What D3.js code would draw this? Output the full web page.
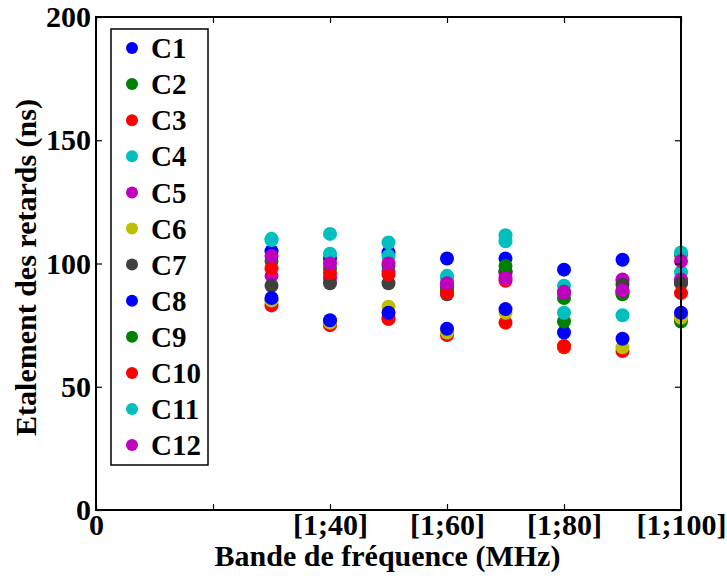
<!DOCTYPE html>
<html><head><meta charset="utf-8">
<script src="https://cdn.jsdelivr.net/npm/d3@7"></script>
<style>
body{margin:0;background:#fff}
svg{display:block}
</style>
</head><body>
<script>
const bands = [30, 40, 50, 60, 70, 80, 90, 100];
const xTickValues = [0, 20, 40, 60, 80, 100];
const xTickLabels = ["0", "", "[1;40]", "[1;60]", "[1;80]", "[1;100]"];
const yTickValues = [0, 50, 100, 150, 200];
const seriesNames = ["C1","C2","C3","C4","C5","C6","C7","C8","C9","C10","C11","C12"];
const seriesColors = ["#0000ff","#008000","#ff0000","#00bfbf","#bf00bf","#bfbf00","#404040","#0000ff","#008000","#ff0000","#00bfbf","#bf00bf"];
const C1  = [105, 102, 104.5, 102, 102, 97.5, 101.5, 92.5];
const C2  = [85, 75.5, 78, 90, 97, 86, 87.5, 76.5];
const C3  = [83, 75, 77.5, 71, 76, 66, 64.5, 78.5];
const C4  = [109.5, 112, 108.5, 95, 109, 91, 93, 96.5];
const C5  = [95, 94, 97, 91, 96, 88, 93.5, 93.5];
const C6  = [85, 76, 82.5, 72, 80, 66.5, 66, 78];
const C7  = [91, 92, 92, 87.5, 97, 88.5, 91.5, 92];
const C8  = [86, 77, 80, 73.5, 81.5, 72, 69.5, 80];
const C9  = [101, 98, 99, 89, 99, 76.5, 88, 103.5];
const C10 = [98, 96, 95.5, 88, 93, 66.5, 89, 88];
const C11 = [110, 104, 103, 94, 111.5, 80, 79, 104.5];
const C12 = [103, 100, 100, 92, 94, 88.5, 89, 101];
const seriesValues = [C1,C2,C3,C4,C5,C6,C7,C8,C9,C10,C11,C12];

const font = "'Liberation Serif','Times New Roman',serif";

const W = 727, H = 578;
const m = {left: 96, right: 681, top: 17, bottom: 510};
const svg = d3.select("body").append("svg").attr("width", W).attr("height", H);
svg.append("rect").attr("width", W).attr("height", H).attr("fill", "#fff");

const x = d3.scaleLinear().domain([0, 100]).range([m.left, m.right]);
const y = d3.scaleLinear().domain([0, 200]).range([m.bottom, m.top]);

// points
seriesValues.forEach((vals, si) => {
  svg.append("g").selectAll("circle").data(vals).join("circle")
    .attr("cx", (d, i) => x(bands[i]))
    .attr("cy", d => y(d))
    .attr("r", 7)
    .attr("fill", seriesColors[si]);
});

// axes
const tickLen = 6;
const xb = svg.append("g").attr("transform", `translate(0,${m.bottom})`)
  .call(d3.axisBottom(x).tickValues(xTickValues).tickSizeInner(-tickLen).tickSizeOuter(0).tickPadding(7)
    .tickFormat((d, i) => xTickLabels[i]));
const xt = svg.append("g").attr("transform", `translate(0,${m.top})`)
  .call(d3.axisTop(x).tickValues(xTickValues).tickSizeInner(-tickLen).tickSizeOuter(0).tickFormat(""));
const yl = svg.append("g").attr("transform", `translate(${m.left},0)`)
  .call(d3.axisLeft(y).tickValues(yTickValues).tickSizeInner(-tickLen).tickSizeOuter(0).tickPadding(5));
const yr = svg.append("g").attr("transform", `translate(${m.right},0)`)
  .call(d3.axisRight(y).tickValues(yTickValues).tickSizeInner(-tickLen).tickSizeOuter(0).tickFormat(""));
[xb, xt, yl, yr].forEach(g => {
  g.selectAll(".domain").remove();
  g.selectAll(".tick line").attr("stroke", "#000").attr("stroke-width", 1.2);
});
xb.selectAll("text").attr("y", 25).attr("dy", null);
[xb, yl].forEach(g => g.selectAll("text")
  .attr("font-family", font).attr("font-size", 30).attr("font-weight", "bold").attr("fill", "#000"));

svg.append("rect").attr("x", m.left).attr("y", m.top)
  .attr("width", m.right - m.left).attr("height", m.bottom - m.top)
  .attr("fill", "none").attr("stroke", "#000").attr("stroke-width", 2);

// axis titles
svg.append("text").attr("x", (m.left + m.right) / 2 - 1).attr("y", 566)
  .attr("text-anchor", "middle").attr("font-family", font).attr("font-size", 30).attr("font-weight", "bold")
  .text("Bande de fréquence (MHz)");
svg.append("text").attr("transform", `translate(36,${(m.top + m.bottom) / 2 + 4}) rotate(-90)`)
  .attr("text-anchor", "middle").attr("font-family", font).attr("font-size", 30).attr("font-weight", "bold")
  .text("Etalement des retards (ns)");

// legend
const lg = svg.append("g");
lg.append("rect").attr("x", 111).attr("y", 29).attr("width", 97).attr("height", 436)
  .attr("fill", "#fff").attr("stroke", "#000").attr("stroke-width", 1.5);
seriesNames.forEach((n, i) => {
  const cy = 48 + i * 36.1;
  lg.append("circle").attr("cx", 132).attr("cy", cy).attr("r", 6).attr("fill", seriesColors[i]);
  lg.append("text").attr("x", 151).attr("y", cy).attr("dy", "0.35em")
    .attr("font-family", font).attr("font-size", 29).attr("font-weight", "bold").text(n);
});
</script>
</body></html>
